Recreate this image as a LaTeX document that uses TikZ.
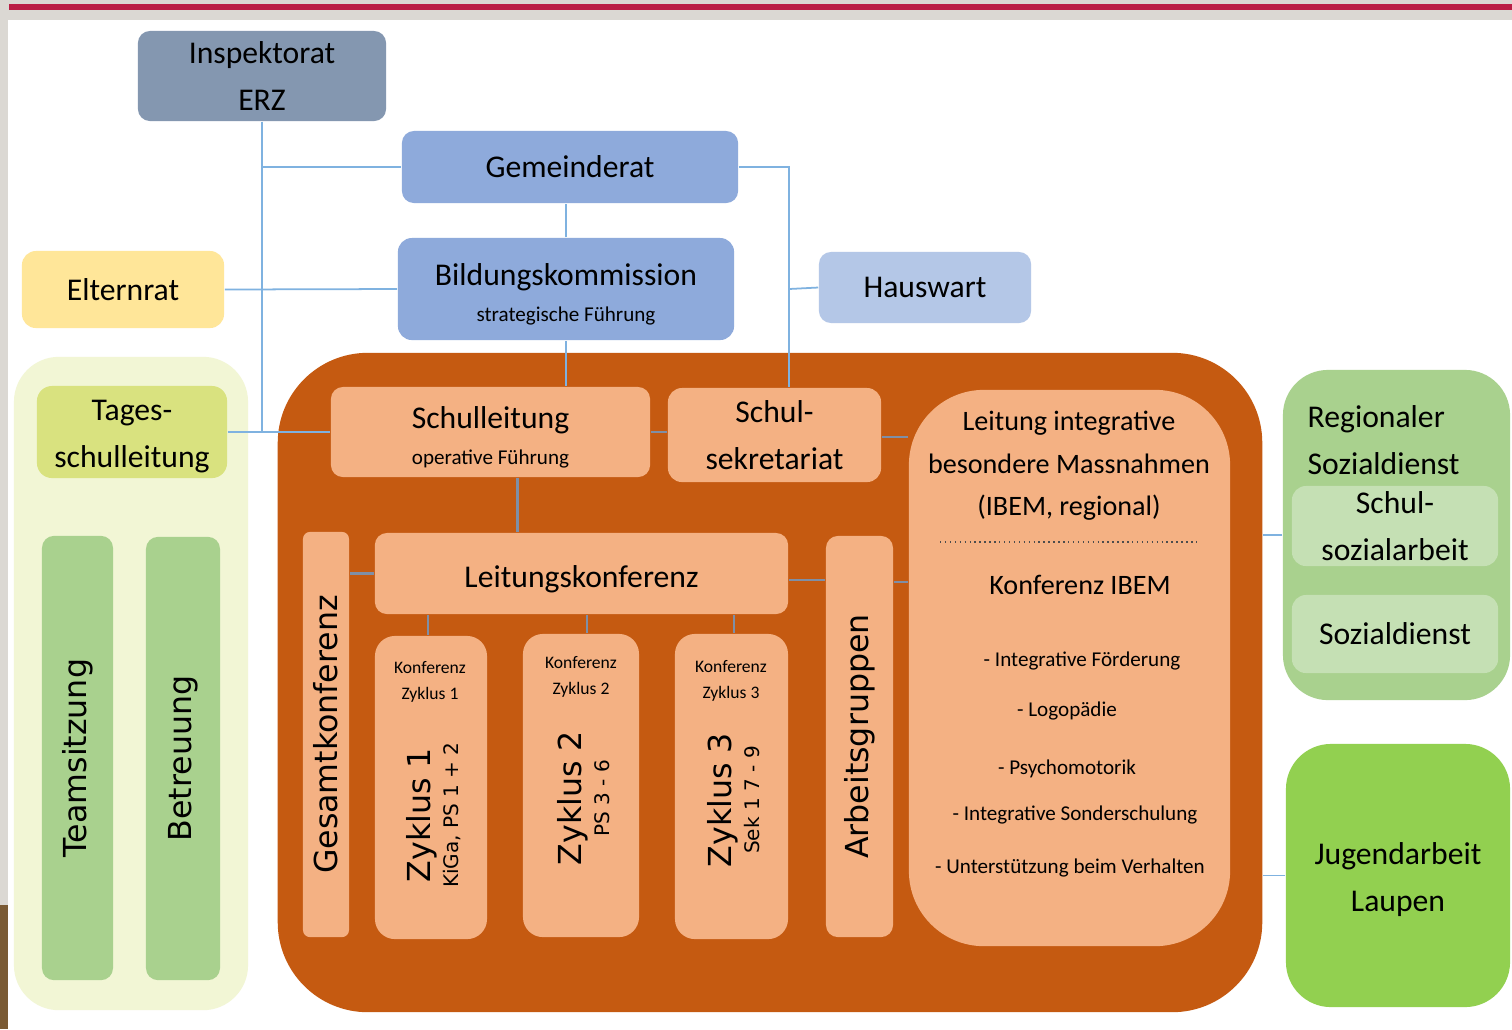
\documentclass[tikz,border=0pt]{standalone}
\usepackage{fontspec}
\setmainfont{Carlito}
\newfontfamily\vfont{DejaVu Sans}
\usetikzlibrary{positioning}

\definecolor{bgcol}{HTML}{DBD8D3}
\definecolor{barcol}{HTML}{BA1E45}
\definecolor{woodcol}{HTML}{7A5A34}
\definecolor{inspcol}{HTML}{8497B0}
\definecolor{gemcol}{HTML}{8EAADB}
\definecolor{hwcol}{HTML}{B4C7E7}
\definecolor{eltcol}{HTML}{FFE699}
\definecolor{palecol}{HTML}{F2F6D5}
\definecolor{tslcol}{HTML}{D9E27F}
\definecolor{greencol}{HTML}{A9D18E}
\definecolor{litegreen}{HTML}{C5E0B4}
\definecolor{jalcol}{HTML}{92D050}
\definecolor{darkorange}{HTML}{C55A11}
\definecolor{liteorange}{HTML}{F4B183}
\definecolor{linkblue}{HTML}{7FB2E0}
\definecolor{linkgrey}{HTML}{7F8FA6}

\tikzset{
  box/.style={rectangle, inner sep=0pt, align=center, font=\fontsize{9}{13.3}\selectfont},
  link/.style={draw=linkblue, line width=0.5pt},
  inlink/.style={draw=linkgrey, line width=0.6pt},
  vlabel/.style={rotate=90, align=center, inner sep=0pt, font=\vfont\fontsize{9}{13}\selectfont},
  item/.style={inner sep=0pt, font=\fontsize{6}{8}\selectfont},
}

\begin{document}
\begin{tikzpicture}[x=0.01cm, y=-0.01cm]
        \useasboundingbox (0,0) rectangle (1512,1029);
        \fill[bgcol] (0,0) rectangle (1512,1029);
        \fill[white] (8,20) rectangle (1512,1029);
        \fill[barcol] (9,4) rectangle (1512,10);
        \fill[woodcol] (0,905) rectangle (8,1029);

        % containers
        \node[box, fill=palecol, minimum width=2.34cm, minimum height=6.53cm, rounded corners=0.45cm] (tspanel) at (131,683.5) {};
        \node[box, fill=darkorange, minimum width=9.84cm, minimum height=6.59cm, rounded corners=0.9cm] (schule) at (770,682.5) {};
        \node[box, fill=greencol, minimum width=2.27cm, minimum height=3.30cm, rounded corners=0.45cm] (rsd) at (1396.5,535) {};
        \node[box, fill=jalcol, minimum width=2.24cm, minimum height=2.63cm, rounded corners=0.45cm] (jal) at (1398,875.5) {\rule{0pt}{8.4pt}Jugendarbeit\\Laupen};

        % top
        \node[box, fill=inspcol, minimum width=2.48cm, minimum height=0.90cm, rounded corners=0.12cm] (insp) at (262,76) {Inspektorat\\ERZ};
        \node[box, fill=gemcol, minimum width=3.36cm, minimum height=0.72cm, rounded corners=0.12cm] (gr) at (570,167) {Gemeinderat};
        \node[box, fill=gemcol, minimum width=3.36cm, minimum height=1.02cm, rounded corners=0.14cm] (bk) at (566,289) {\rule{0pt}{9.25pt}Bildungskommission\\[-3pt]{\fontsize{6}{7}\selectfont strategische Führung}};
        \node[box, fill=eltcol, minimum width=2.02cm, minimum height=0.77cm, rounded corners=0.14cm] (elt) at (123,289.5) {Elternrat};
        \node[box, fill=hwcol, minimum width=2.12cm, minimum height=0.71cm, rounded corners=0.12cm] (hw) at (925,287.5) {Hauswart};

        % Tagesschule
        \node[box, fill=tslcol, minimum width=1.90cm, minimum height=0.92cm, rounded corners=0.15cm] (tsl) at (132,432) {\rule{0pt}{8.4pt}Tages-\\schulleitung};
        \node[box, fill=greencol, minimum width=0.71cm, minimum height=4.44cm, rounded corners=0.12cm] (ts) at (77.5,758) {};
        \node[box, fill=greencol, minimum width=0.74cm, minimum height=4.43cm, rounded corners=0.12cm] (bt) at (183,758.5) {};
        \node[vlabel] (tst) at (ts) {Teamsitzung};
        \node[vlabel] (btt) at (bt) {Betreuung};

        % Schule
        \node[box, fill=liteorange, minimum width=3.19cm, minimum height=0.90cm, rounded corners=0.12cm] (sl) at (490.5,432) {\rule{0pt}{9.25pt}Schulleitung\\[-3pt]{\fontsize{6}{7}\selectfont operative Führung}};
        \node[box, fill=liteorange, minimum width=2.13cm, minimum height=0.94cm, rounded corners=0.14cm] (sek) at (774.5,435) {Schul-\\sekretariat};
        \node[box, fill=liteorange, minimum width=3.21cm, minimum height=5.56cm, rounded corners=0.75cm] (ibem) at (1069.5,668) {};
        \node[box, fill=liteorange, minimum width=0.46cm, minimum height=4.05cm, rounded corners=0.07cm] (gk) at (326,734.5) {};
        \node[vlabel] (gkt) at (gk) {Gesamtkonferenz};
        \node[box, fill=liteorange, minimum width=4.13cm, minimum height=0.81cm, rounded corners=0.12cm] (lk) at (581.5,573.5) {\rule{0pt}{9.25pt}Leitungskonferenz};
        \node[box, fill=liteorange, minimum width=0.67cm, minimum height=4.01cm, rounded corners=0.12cm] (ag) at (859.5,736.5) {};
        \node[vlabel] (agt) at (ag) {Arbeitsgruppen};

        \node[box, fill=liteorange, minimum width=1.12cm, minimum height=3.03cm, rounded corners=0.2cm] (z1) at (431,787.5) {};
        \node[box, fill=liteorange, minimum width=1.16cm, minimum height=3.03cm, rounded corners=0.2cm] (z2) at (581,785.5) {};
        \node[box, fill=liteorange, minimum width=1.13cm, minimum height=3.05cm, rounded corners=0.2cm] (z3) at (731.5,786.5) {};
        \node[item, align=center, font=\fontsize{5}{7.4}\selectfont] (z1k) at (430,682) {Konferenz\\Zyklus 1};
        \node[item, align=center, font=\fontsize{5}{7.4}\selectfont] (z2k) at (581,677) {Konferenz\\Zyklus 2};
        \node[item, align=center, font=\fontsize{5}{7.4}\selectfont] (z3k) at (731,681) {Konferenz\\Zyklus 3};
        \node[vlabel] (z1t) at (434,815) {Zyklus 1\\[-5pt]{\fontsize{5.7}{7}\selectfont KiGa, PS 1 + 2}};
        \node[vlabel] (z2t) at (584,798) {Zyklus 2\\[-5pt]{\fontsize{5.7}{7}\selectfont PS 3 - 6}};
        \node[vlabel] (z3t) at (734,800) {Zyklus 3\\[-5pt]{\fontsize{5.7}{7}\selectfont Sek 1 7 - 9}};

        % IBEM
        \node[box, font=\fontsize{8}{12.1}\selectfont] (ibemt) at (1069,466) {Leitung integrative\\besondere Massnahmen\\(IBEM, regional)};
        \draw[densely dotted, line width=0.4pt, black!70] (940,542) -- (1198,542);
        \node[box, font=\fontsize{8}{10}\selectfont] (kibem) at (1080,585) {Konferenz IBEM};
        \node[item] (i1) at (1082,661) {- Integrative Förderung};
        \node[item] (i2) at (1067,711) {- Logopädie};
        \node[item] (i3) at (1067,769) {- Psychomotorik};
        \node[item] (i4) at (1075,815) {- Integrative Sonderschulung};
        \node[item] (i5) at (1070,868) {- Unterstützung beim Verhalten};

        % Sozialdienst
        \node[box, anchor=west, align=left] (rsdt) at (1307,440) {Regionaler\\Sozialdienst};
        \node[box, fill=litegreen, minimum width=2.06cm, minimum height=0.80cm, rounded corners=0.14cm] (ssa) at (1395,526) {Schul-\\sozialarbeit};
        \node[box, fill=litegreen, minimum width=2.06cm, minimum height=0.78cm, rounded corners=0.14cm] (sd) at (1395,634) {Sozialdienst};

        % connectors
        \coordinate (hwbus) at (789,289);
        \draw[link] (insp.south) -- (insp.south |- tsl.east);
        \draw[link] (insp.south |- gr.west) -- (gr.west);
        \draw[link] (elt.east) -- (bk.west);
        \draw[link] (tsl.east) -- (sl.west);
        \draw[link] (bk.north) -- (bk.north |- gr.south);
        \draw[link] (bk.south) -- (bk.south |- sl.north);
        \draw[link] (gr.east) -| (hwbus |- sek.north);
        \draw[link] (hwbus) -- (hw.west);
        \draw[inlink] (sl.east) -- (sl.east -| sek.west);
        \draw[inlink] ([yshift=-0.02cm]sek.east) -- ([yshift=-0.02cm]sek.east -| ibem.west);
        \draw[inlink] ([xshift=0.27cm]sl.south) -- ([xshift=0.27cm]sl.south |- lk.north);
        \draw[inlink] (lk.west) -- (lk.west -| gk.east);
        \draw[inlink] ([yshift=-0.065cm]lk.east) -- ([yshift=-0.065cm]lk.east -| ag.west);
        \draw[inlink] ([yshift=-0.085cm]lk.east -| ag.east) -- ([yshift=-0.085cm]lk.east -| ibem.west);
        \draw[inlink] ([xshift=-0.03cm]z1.north) -- ([xshift=-0.03cm]z1.north |- lk.south);
        \draw[inlink] ([xshift=0.06cm]z2.north) -- ([xshift=0.06cm]z2.north |- lk.south);
        \draw[inlink] ([xshift=0.025cm]z3.north) -- ([xshift=0.025cm]z3.north |- lk.south);
        \draw[link] (rsd.west) -- (rsd.west -| schule.east);
        \draw[link] (jal.west) -- (jal.west -| schule.east);

    \end{tikzpicture}
\end{document}
